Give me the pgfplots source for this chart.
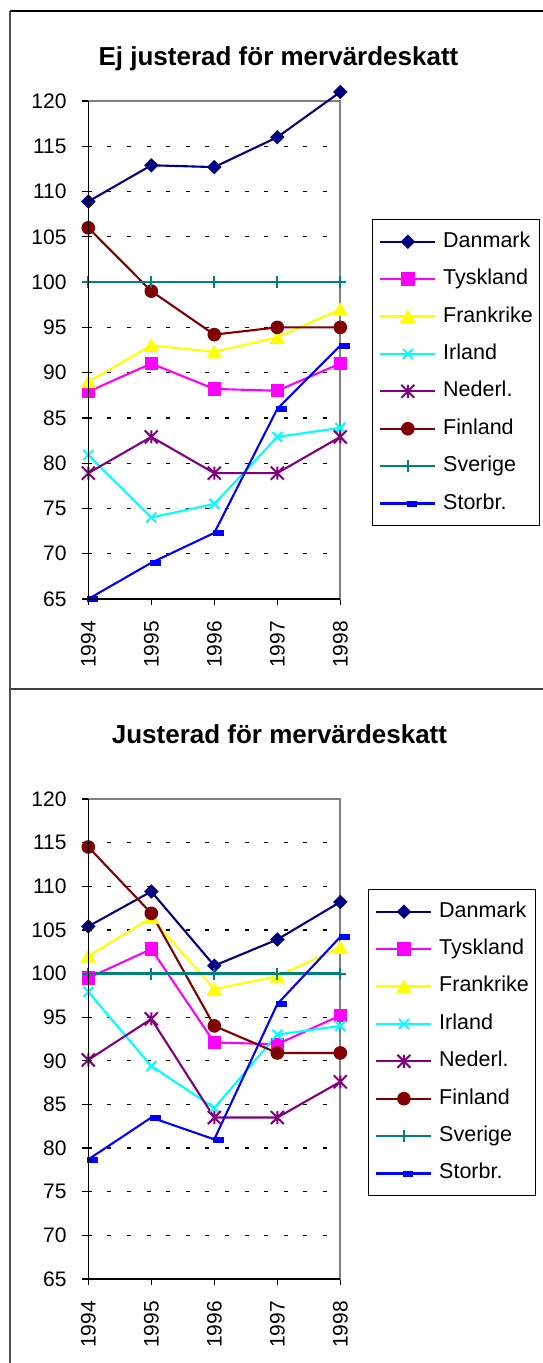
\documentclass[border=0pt]{standalone}
\usepackage{fontspec}
\setmainfont{Liberation Sans}
\usepackage{pgfplots}
\pgfplotsset{compat=1.18}
\definecolor{cDan}{RGB}{0,0,128}
\definecolor{cTys}{RGB}{255,0,255}
\definecolor{cFra}{RGB}{255,255,0}
\definecolor{cIrl}{RGB}{0,255,255}
\definecolor{cNed}{RGB}{128,0,128}
\definecolor{cFin}{RGB}{128,0,0}
\definecolor{cSve}{RGB}{0,128,128}
\definecolor{cSto}{RGB}{0,0,255}
\definecolor{axgray}{RGB}{128,128,128}
\pgfdeclareplotmark{xstar}{%
  \pgfpathmoveto{\pgfqpoint{-\pgfplotmarksize}{-\pgfplotmarksize}}%
  \pgfpathlineto{\pgfqpoint{\pgfplotmarksize}{\pgfplotmarksize}}%
  \pgfpathmoveto{\pgfqpoint{-\pgfplotmarksize}{\pgfplotmarksize}}%
  \pgfpathlineto{\pgfqpoint{\pgfplotmarksize}{-\pgfplotmarksize}}%
  \pgfpathmoveto{\pgfqpoint{0pt}{-\pgfplotmarksize}}%
  \pgfpathlineto{\pgfqpoint{0pt}{\pgfplotmarksize}}%
  \pgfusepathqstroke}
\pgfplotsset{
  mystyle/.style={
    scale only axis, width=252pt,
    xmin=1994, xmax=1998, ymin=65, ymax=120,
    clip=false,
    xtick={1994,1995,1996,1997,1998},
    xticklabels={1994,1995,1996,1997,1998},
    ytick={70,75,...,115},
    extra y ticks={65,120},
    extra y tick style={grid=none},
    ymajorgrids,
    grid style={black, line width=1.3pt, dash pattern=on 4pt off 15.6pt, dash phase=0.6pt},
    axis line style={axgray, line width=1.6pt},
    tick align=outside, tick pos=left,
    major tick length=6pt,
    tick style={black, line width=1.2pt},
    /pgf/number format/assume math mode=true,
    tick label style={font=\fontsize{21}{25}\selectfont},
    yticklabel style={anchor=east, inner xsep=15.6pt, inner ysep=0pt},
    xticklabel style={rotate=90, anchor=east, inner xsep=16pt, inner ysep=0pt},
    legend cell align=left,
    legend style={anchor=north west, draw=black, line width=1.2pt,
      inner xsep=6.5pt, inner ysep=11.6pt, row sep=16.4pt, column sep=6.5pt,
      font=\fontsize{21.5}{25}\selectfont,
      nodes={inner sep=0pt, text height=16pt, text depth=5pt, anchor=west}},
    legend image code/.code={\draw[mark repeat=2,mark phase=2,##1] plot coordinates {(0pt,0pt) (27.5pt,0pt) (55pt,0pt)};},
    after end axis/.code={\draw[black, line width=1.6pt] (rel axis cs:0,1) -- (rel axis cs:0,0) -- (rel axis cs:1,0);},
  },
  sDan/.style={color=cDan, draw=cDan, line width=2.1pt, mark=square*, mark size=4.6pt, mark options={solid, rotate=45, draw=cDan, fill=cDan, line width=1pt}},
  sTys/.style={color=cTys, draw=cTys, line width=2.1pt, mark=square*, mark size=6.2pt, mark options={solid, draw=cTys, fill=cTys, line width=1pt}},
  sFra/.style={color=cFra, draw=cFra, line width=2.1pt, mark=triangle*, mark size=8pt, mark options={solid, yshift=-2pt, draw=cFra, fill=cFra, line width=1pt}},
  sIrl/.style={color=cIrl, draw=cIrl, line width=2.1pt, mark=x, mark size=7pt, mark options={solid, draw=cIrl, line width=2pt}},
  sNed/.style={color=cNed, draw=cNed, line width=2.1pt, mark=xstar, mark size=6.5pt, mark options={solid, draw=cNed, line width=2pt}},
  sFin/.style={color=cFin, draw=cFin, line width=2.1pt, mark=*, mark size=6.3pt, mark options={solid, draw=cFin, fill=cFin, line width=1pt}},
  sSve/.style={color=cSve, draw=cSve, line width=2.6pt, mark=+, mark size=6pt, mark options={solid, draw=cSve, line width=2pt}},
  sSto/.style={color=cSto, draw=cSto, line width=2.1pt, mark=square*, mark size=2.6pt, mark options={solid, xshift=4pt, xscale=1.8, draw=cSto, fill=cSto, line width=0.5pt}},
}
\begin{document}
\begin{tikzpicture}
\path[use as bounding box] (0pt,0pt) rectangle (543pt,1363pt);
\draw[black, line width=1.5pt] (10.4pt,1352pt) -- (543pt,1352pt);
\draw[axgray!60!black, line width=2pt] (10.4pt,1352pt) -- (10.4pt,0pt);
\draw[axgray!50!black, line width=1.5pt] (10.4pt,674pt) -- (543pt,674pt);
\node[font=\fontsize{26}{30}\selectfont\bfseries, anchor=base] at (278.5pt,1297pt) {Ej justerad för mervärdeskatt};
\node[font=\fontsize{26}{30}\selectfont\bfseries, anchor=base] at (279.5pt,619pt) {Justerad för mervärdeskatt};

\begin{axis}[mystyle, at={(88.3pt,764pt)}, anchor=south west, height=498pt,
  legend style={at={(rel axis cs:1.1258,0.763)}}]
\addplot[sDan] coordinates {(1994,108.9) (1995,112.9) (1996,112.7) (1997,116.0) (1998,121.0)};
\addlegendentry{Danmark}
\addplot[sTys] coordinates {(1994,87.9) (1995,91.0) (1996,88.2) (1997,88.0) (1998,91.0)};
\addlegendentry{Tyskland}
\addplot[sFra] coordinates {(1994,89.0) (1995,93.0) (1996,92.3) (1997,93.9) (1998,97.0)};
\addlegendentry{Frankrike}
\addplot[sIrl] coordinates {(1994,80.9) (1995,74.0) (1996,75.5) (1997,82.9) (1998,83.9)};
\addlegendentry{Irland}
\addplot[sNed] coordinates {(1994,78.9) (1995,82.9) (1996,78.9) (1997,78.9) (1998,82.9)};
\addlegendentry{Nederl.}
\addplot[sFin] coordinates {(1994,106.0) (1995,99.0) (1996,94.2) (1997,95.0) (1998,95.0)};
\addlegendentry{Finland}
\addplot[sSve] coordinates {(1994,100) (1995,100) (1996,100) (1997,100) (1998,100)};
\addlegendentry{Sverige}
\addplot[sSto] coordinates {(1994,65.0) (1995,69.0) (1996,72.3) (1997,86.0) (1998,93.0)};
\addlegendentry{Storbr.}
\end{axis}

\begin{axis}[mystyle, at={(88.3pt,84pt)}, anchor=south west, height=480pt,
  legend style={at={(rel axis cs:1.11,0.8125)}}]
\addplot[sDan] coordinates {(1994,105.4) (1995,109.4) (1996,100.9) (1997,103.9) (1998,108.2)};
\addlegendentry{Danmark}
\addplot[sTys] coordinates {(1994,99.5) (1995,102.8) (1996,92.1) (1997,91.9) (1998,95.2)};
\addlegendentry{Tyskland}
\addplot[sFra] coordinates {(1994,102.0) (1995,106.4) (1996,98.2) (1997,99.7) (1998,103.0)};
\addlegendentry{Frankrike}
\addplot[sIrl] coordinates {(1994,97.9) (1995,89.4) (1996,84.6) (1997,93.0) (1998,94.0)};
\addlegendentry{Irland}
\addplot[sNed] coordinates {(1994,90.1) (1995,94.8) (1996,83.5) (1997,83.5) (1998,87.6)};
\addlegendentry{Nederl.}
\addplot[sFin] coordinates {(1994,114.5) (1995,106.9) (1996,94.0) (1997,90.9) (1998,90.9)};
\addlegendentry{Finland}
\addplot[sSve] coordinates {(1994,100) (1995,100) (1996,100) (1997,100) (1998,100)};
\addlegendentry{Sverige}
\addplot[sSto] coordinates {(1994,78.7) (1995,83.5) (1996,81.0) (1997,96.5) (1998,104.2)};
\addlegendentry{Storbr.}
\end{axis}
\end{tikzpicture}
\end{document}
